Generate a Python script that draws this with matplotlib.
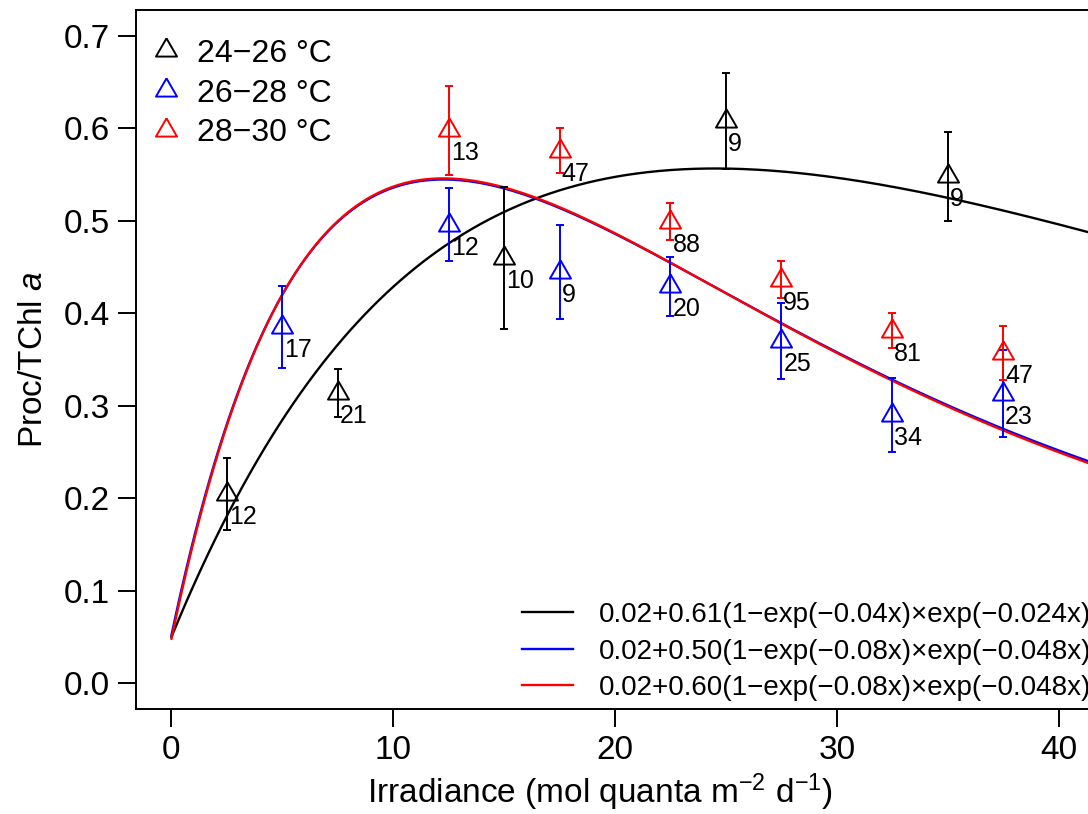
import numpy as np
import matplotlib
matplotlib.use("Agg")
import matplotlib.pyplot as plt
from matplotlib.lines import Line2D

plt.rcParams['font.family'] = ['Liberation Sans', 'DejaVu Sans']
plt.rcParams['mathtext.fontset'] = 'custom'
plt.rcParams['mathtext.rm'] = 'Liberation Sans'
plt.rcParams['mathtext.it'] = 'Liberation Sans:italic'

# observations: irradiance bins, mean Proc/TChl a, error, sample counts
x_24 = [2.5, 7.5, 15, 25, 35]
y_24 = [0.205, 0.314, 0.460, 0.608, 0.548]
e_24 = [0.039, 0.026, 0.077, 0.052, 0.048]
n_24 = ['12', '21', '10', '9', '9']

x_26 = [5, 12.5, 17.5, 22.5, 27.5, 32.5, 37.5]
y_26 = [0.385, 0.496, 0.445, 0.429, 0.370, 0.290, 0.313]
e_26 = [0.044, 0.040, 0.051, 0.032, 0.041, 0.040, 0.047]
n_26 = ['17', '12', '9', '20', '25', '34', '23']

x_28 = [12.5, 17.5, 22.5, 27.5, 32.5, 37.5]
y_28 = [0.598, 0.576, 0.499, 0.436, 0.381, 0.357]
e_28 = [0.048, 0.024, 0.020, 0.020, 0.019, 0.029]
n_28 = ['13', '47', '88', '95', '81', '47']

groups = ['24\u221226 \u00b0C', '26\u221228 \u00b0C', '28\u221230 \u00b0C']
colors = ['black', 'blue', 'red']

# fitted light curves: c + P*(1-exp(-a x))*exp(-b x), as drawn
fit_c = [0.050, 0.052, 0.048]
fit_p = [1.46, 1.42, 1.435]
fit_a = [0.04, 0.08, 0.08]
fit_b = [0.024, 0.048, 0.048]
fit_labels = [
    '0.02+0.61(1\u2212exp(\u22120.04x)\u00d7exp(\u22120.024x))',
    '0.02+0.50(1\u2212exp(\u22120.08x)\u00d7exp(\u22120.048x))',
    '0.02+0.60(1\u2212exp(\u22120.08x)\u00d7exp(\u22120.048x))',
]

# R-style open triangle (pch = 2), centred on its centroid
tri = [(0, 1.1547), (-1, -0.5774), (1, -0.5774), (0, 1.1547)]

fig = plt.figure(figsize=(10.88, 8.14), dpi=100)
ax = fig.add_axes([136 / 1088, 105 / 814, 958 / 1088, 699 / 814])

xs = np.linspace(0, 43, 400)
fit_lines = []
for c, p, a, b, col in zip(fit_c, fit_p, fit_a, fit_b, colors):
    ys = c + p * (1 - np.exp(-a * xs)) * np.exp(-b * xs)
    ln, = ax.plot(xs, ys, color=col, lw=1.7, zorder=2)
    fit_lines.append(ln)

obs = [(x_24, y_24, e_24, n_24), (x_26, y_26, e_26, n_26), (x_28, y_28, e_28, n_28)]
for (xv, yv, ev, nv), col in zip(obs, colors):
    ax.errorbar(xv, yv, yerr=ev, fmt='none', ecolor=col, elinewidth=1.4,
                capsize=3, capthick=1.4, zorder=3)
    ax.plot(xv, yv, linestyle='none', marker=tri, markersize=17.5,
            mfc='none', mec=col, mew=1.4, zorder=4)
    for xi, yi, lab in zip(xv, yv, nv):
        ax.annotate(lab, (xi, yi), xytext=(2, -23), textcoords='offset pixels',
                    ha='left', va='center', fontsize=18, zorder=5)

ax.set_xlim(-1.6, 41.6)
ax.set_ylim(-0.028, 0.728)
ax.set_xticks([0, 10, 20, 30, 40])
ax.set_yticks(np.arange(0, 0.71, 0.1))
ax.set_yticklabels(['0.0', '0.1', '0.2', '0.3', '0.4', '0.5', '0.6', '0.7'])
ax.tick_params(labelsize=24, length=13, width=1.4, pad=6)
for s in ax.spines.values():
    s.set_linewidth(1.4)

ax.set_xlabel('Irradiance (mol quanta m$^{\\mathregular{\u22122}}$ d$^{\\mathregular{\u22121}}$)',
              fontsize=24)
ax.xaxis.set_label_coords(0.484, -0.09)
ax.set_ylabel('Proc/TChl $a$', fontsize=24, labelpad=10)

point_handles = [Line2D([], [], linestyle='none', marker=tri, markersize=17.5,
                        mfc='none', mec=col, mew=1.4) for col in colors]
leg1 = ax.legend(point_handles, groups, loc='upper left', bbox_to_anchor=(0.0143, 0.959),
                 frameon=False, fontsize=23, borderpad=0, borderaxespad=0,
                 handlelength=1.0, handletextpad=0.47, labelspacing=0.31)
ax.add_artist(leg1)

ax.legend(fit_lines, fit_labels, loc='upper left', bbox_to_anchor=(0.403, 0.153),
          frameon=False, fontsize=20, borderpad=0, borderaxespad=0,
          handlelength=1.83, handletextpad=0.94, labelspacing=0.38)

fig.savefig('out.png', dpi=100)
